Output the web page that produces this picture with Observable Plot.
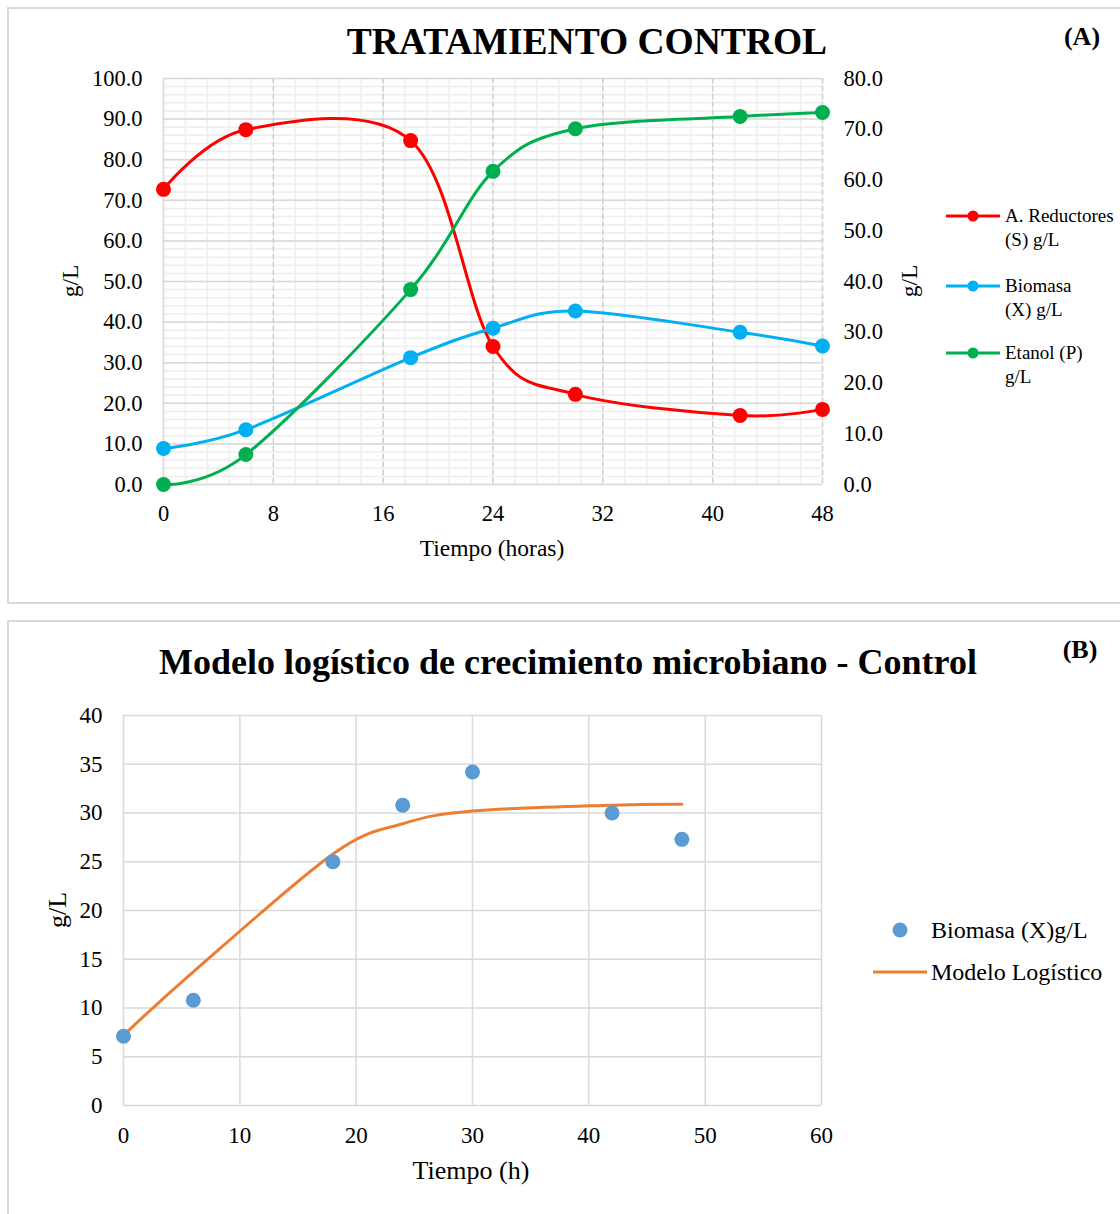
<!DOCTYPE html>
<html><head><meta charset="utf-8">
<script src="https://cdn.jsdelivr.net/npm/d3@7"></script>
<script src="https://cdn.jsdelivr.net/npm/@observablehq/plot@0.6"></script>
<style>
body{margin:0;background:#fff;}
#page{position:relative;width:1120px;height:1214px;overflow:hidden;background:#fff;font-family:"Liberation Serif","Times New Roman",serif;}
#page svg text{font-family:"Liberation Serif","Times New Roman",serif;}
.layer{position:absolute;left:0;}
.panel{position:absolute;border:2px solid #d9d9d9;box-sizing:border-box;}
</style></head><body><div id="page"></div>
<script>
// ---- data ----
const hours = [0, 6, 18, 24, 30, 42, 48];
const sustrato = [72.7, 87.4, 84.7, 34.0, 22.2, 17.0, 18.5];   // left axis
const biomasa  = [7.1, 10.8, 25.0, 30.8, 34.2, 30.0, 27.3];    // right axis
const etanol   = [0.0, 5.9, 38.4, 61.7, 70.1, 72.5, 73.3];     // right axis
const modeloLog = [7.2, 13.7, 25.8, 28.9, 30.2, 30.8, 30.9];
const xTicksA = [0, 8, 16, 24, 32, 40, 48];
const yTicksLeftA = [0, 10, 20, 30, 40, 50, 60, 70, 80, 90, 100];
const yTicksRightA = [0, 10, 20, 30, 40, 50, 60, 70, 80];
const xTicksB = [0, 10, 20, 30, 40, 50, 60];
const yTicksB = [0, 5, 10, 15, 20, 25, 30, 35, 40];
const namesA = [["A. Reductores", "(S) g/L"], ["Biomasa", "(X) g/L"], ["Etanol (P)", "g/L"]];
const colorsA = ["#ff0000", "#00b0f0", "#00b050"];
const namesB = ["Biomasa (X)g/L", "Modelo Logístico"];

const K = 100 / 80; // right axis -> left axis units
const FONT = "'Liberation Serif', 'Times New Roman', serif";
const page = document.getElementById("page");

const sRows = hours.map((t, i) => ({t, v: sustrato[i]}));
const bRows = hours.map((t, i) => ({t, v: biomasa[i] * K}));
const eRows = hours.map((t, i) => ({t, v: etanol[i] * K}));
const minorY = d3.range(0, 100.001, 2);
const minorX = d3.range(0, 48.001, 1.6);
const CURVE = "cardinal";

const plotA = Plot.plot({
  width: 1120, height: 604,
  marginLeft: 163, marginRight: 298, marginTop: 78, marginBottom: 120,
  style: {background: "transparent", fontFamily: FONT, fontSize: "22.5px", color: "#000"},
  x: {domain: [0, 48]},
  y: {domain: [0, 100]},
  marks: [
    Plot.ruleY(minorY, {stroke: "#eeeeee", strokeWidth: 1.5}),
    Plot.ruleX(minorX, {stroke: "#eeeeee", strokeWidth: 1.5}),
    Plot.ruleY(yTicksLeftA, {stroke: "#d9d9d9", strokeWidth: 1.5}),
    Plot.ruleX(xTicksA.slice(1), {stroke: "#d0d0d0", strokeWidth: 1.5, strokeDasharray: "5,3"}),
    Plot.ruleX([0], {stroke: "#d9d9d9", strokeWidth: 1.5}),
    Plot.line(sRows, {x: "t", y: "v", stroke: colorsA[0], strokeWidth: 3, curve: CURVE}),
    Plot.line(bRows, {x: "t", y: "v", stroke: colorsA[1], strokeWidth: 3, curve: CURVE}),
    Plot.line(eRows, {x: "t", y: "v", stroke: colorsA[2], strokeWidth: 3, curve: CURVE}),
    Plot.dot(sRows, {x: "t", y: "v", r: 7.5, fill: colorsA[0]}),
    Plot.dot(bRows, {x: "t", y: "v", r: 7.5, fill: colorsA[1]}),
    Plot.dot(eRows, {x: "t", y: "v", r: 7.5, fill: colorsA[2]}),
    Plot.axisY({ticks: yTicksLeftA, tickFormat: d => d.toFixed(1), tickSize: 0, tickPadding: 21, label: null, fontSize: 22.5, fontFamily: FONT, fill: "#000"}),
    Plot.axisY({anchor: "right", ticks: yTicksRightA.map(v => v * K), tickFormat: d => (d / K).toFixed(1), tickSize: 0, tickPadding: 21, label: null, fontSize: 22.5, fontFamily: FONT, fill: "#000"}),
    Plot.axisX({ticks: xTicksA, tickFormat: d => String(d), tickSize: 0, tickPadding: 21, label: null, fontSize: 22.5, fontFamily: FONT, fill: "#000"})
  ]
});
const wrapA = document.createElement("div");
wrapA.className = "layer"; wrapA.style.top = "0px";
wrapA.appendChild(plotA);
page.appendChild(wrapA);

const obsRows = hours.map((t, i) => ({t, v: biomasa[i]}));
const modRows = hours.map((t, i) => ({t, v: modeloLog[i]}));
const plotB = Plot.plot({
  width: 1120, height: 594,
  marginLeft: 123, marginRight: 299, marginTop: 95, marginBottom: 109,
  style: {background: "transparent", fontFamily: FONT, fontSize: "23px", color: "#000"},
  x: {domain: [0, 60]},
  y: {domain: [0, 40]},
  marks: [
    Plot.ruleY(yTicksB, {stroke: "#d9d9d9", strokeWidth: 1.5}),
    Plot.ruleX(xTicksB, {stroke: "#d9d9d9", strokeWidth: 1.5}),
    Plot.line(modRows, {x: "t", y: "v", stroke: "#ed7d31", strokeWidth: 3, curve: CURVE}),
    Plot.dot(obsRows, {x: "t", y: "v", r: 7.5, fill: "#5b9bd5"}),
    Plot.axisY({ticks: yTicksB, tickFormat: d => String(d), tickSize: 0, tickPadding: 21, label: null, fontSize: 23, fontFamily: FONT, fill: "#000"}),
    Plot.axisX({ticks: xTicksB, tickFormat: d => String(d), tickSize: 0, tickPadding: 21, label: null, fontSize: 23, fontFamily: FONT, fill: "#000"})
  ]
});
const wrapB = document.createElement("div");
wrapB.className = "layer"; wrapB.style.top = "620px";
wrapB.appendChild(plotB);
page.appendChild(wrapB);

// panel borders
[[7, 7, 1130, 597], [7, 620, 1130, 620]].forEach(([l, t, w, h]) => {
  const d = document.createElement("div");
  d.className = "panel";
  Object.assign(d.style, {left: l + "px", top: t + "px", width: w + "px", height: h + "px"});
  page.appendChild(d);
});

// overlay: titles, axis labels, legends
const ov = d3.select(page).append("svg")
  .attr("width", 1120).attr("height", 1214)
  .style("position", "absolute").style("left", 0).style("top", 0)
  .style("font-family", FONT);
function txt(x, y, s, size, opts = {}) {
  const t = ov.append("text").attr("x", x).attr("y", y).text(s)
    .attr("font-size", size).attr("fill", "#000")
    .attr("text-anchor", opts.anchor || "start")
    .attr("font-weight", opts.bold ? "bold" : "normal");
  if (opts.rotate) t.attr("transform", `rotate(-90 ${x} ${y})`);
  return t;
}
// panel A
txt(587, 54, "TRATAMIENTO CONTROL", 37.5, {anchor: "middle", bold: true});
txt(1082, 45, "(A)", 26, {anchor: "middle", bold: true});
txt(492, 556, "Tiempo (horas)", 23.5, {anchor: "middle"});
txt(78, 281, "g/L", 23.5, {anchor: "middle", rotate: true});
txt(917, 281, "g/L", 23.5, {anchor: "middle", rotate: true});
const legY = [216, 286, 353];
namesA.forEach((lines, i) => {
  ov.append("line").attr("x1", 946).attr("x2", 1000).attr("y1", legY[i]).attr("y2", legY[i])
    .attr("stroke", colorsA[i]).attr("stroke-width", 3);
  ov.append("circle").attr("cx", 973).attr("cy", legY[i]).attr("r", 5.5).attr("fill", colorsA[i]);
  txt(1005, legY[i] + 6, lines[0], 19);
  txt(1005, legY[i] + 29.5, lines[1], 19);
});
// panel B
txt(568, 674, "Modelo logístico de crecimiento microbiano - Control", 36, {anchor: "middle", bold: true});
txt(1080, 658, "(B)", 26, {anchor: "middle", bold: true});
txt(471, 1179, "Tiempo (h)", 26, {anchor: "middle"});
txt(66, 910, "g/L", 26, {anchor: "middle", rotate: true});
ov.append("circle").attr("cx", 900).attr("cy", 930).attr("r", 7.5).attr("fill", "#5b9bd5");
txt(931, 938, namesB[0], 24);
ov.append("line").attr("x1", 873).attr("x2", 927).attr("y1", 972).attr("y2", 972)
  .attr("stroke", "#ed7d31").attr("stroke-width", 3);
txt(931, 980, namesB[1], 24);
</script></body></html>
